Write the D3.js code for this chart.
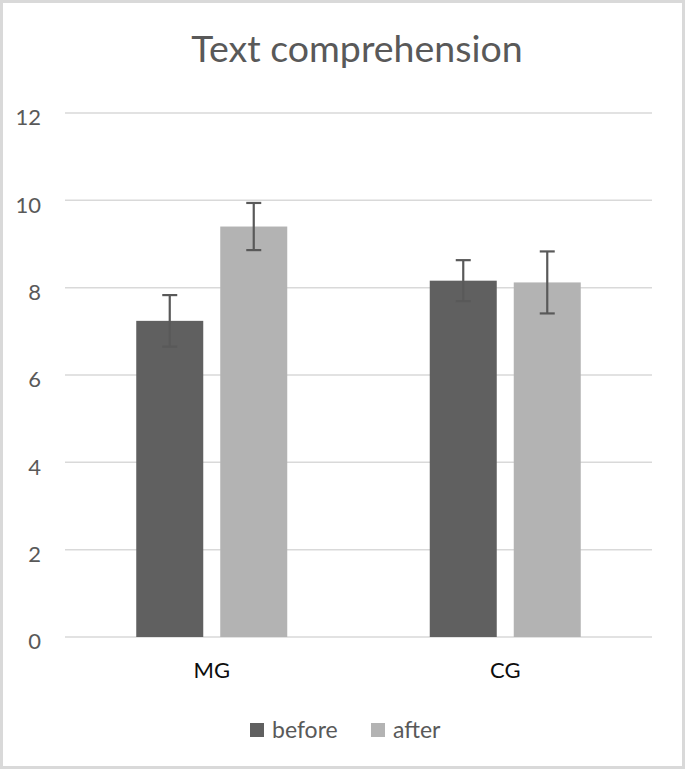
<!DOCTYPE html>
<html>
<head>
<meta charset="utf-8">
<script src="https://cdn.jsdelivr.net/npm/d3@7"></script>
<style>
  body { margin: 0; background: white; }
  svg { display: block; }
</style>
</head>
<body>
<div id="chart"></div>
<script>
const categories = ["MG", "CG"];
const seriesNames = ["before", "after"];
const before = [7.24, 8.16];
const after = [9.40, 8.12];
const beforeErr = [0.59, 0.47];
const afterErr = [0.54, 0.71];
const yTicks = [0, 2, 4, 6, 8, 10, 12];

const width = 685;
const height = 769;
const margin = { top: 113, right: 33, bottom: 132, left: 65 };
const colors = { before: "#606060", after: "#b3b3b3" };
const font = "Lato, 'Open Sans', sans-serif";

const rows = categories.map((c, i) => ({
  cat: c,
  values: [
    { key: "before", v: before[i], e: beforeErr[i] },
    { key: "after", v: after[i], e: afterErr[i] }
  ]
}));

const svg = d3.select("#chart")
  .append("svg")
  .attr("width", width)
  .attr("height", height)
  .style("font-family", font);

// chart frame
svg.append("rect")
  .attr("x", 1.5).attr("y", 1.5)
  .attr("width", width - 3).attr("height", height - 3)
  .attr("fill", "white")
  .attr("stroke", "#d9d9d9")
  .attr("stroke-width", 3);

const x0 = d3.scaleBand()
  .domain(categories)
  .range([margin.left, width - margin.right]);

// two bars of 67px with 17px between, centred in each band
const barW = 67, barGap = 17;
const x1 = d3.scaleOrdinal()
  .domain(seriesNames)
  .range([-(barW + barGap / 2), barGap / 2]);

const y = d3.scaleLinear()
  .domain([0, 12])
  .range([height - margin.bottom, margin.top]);

// gridlines
svg.append("g")
  .selectAll("line")
  .data(yTicks)
  .join("line")
  .attr("x1", margin.left)
  .attr("x2", width - margin.right)
  .attr("y1", d => y(d))
  .attr("y2", d => y(d))
  .attr("stroke", "#d9d9d9")
  .attr("stroke-width", 1.5);

// y axis labels
const yAxis = svg.append("g")
  .attr("transform", `translate(${margin.left - 24},4)`)
  .call(d3.axisLeft(y).tickValues(yTicks).tickSize(0).tickPadding(0));
yAxis.select(".domain").remove();
yAxis.selectAll("text")
  .attr("fill", "#595959")
  .style("font-size", "22px")
  .style("font-family", font)
  .attr("dy", "0.36em");

// bars
const groups = svg.append("g")
  .selectAll("g")
  .data(rows)
  .join("g")
  .attr("transform", d => `translate(${x0(d.cat) + x0.bandwidth() / 2},0)`);

groups.selectAll("rect")
  .data(d => d.values)
  .join("rect")
  .attr("x", d => x1(d.key))
  .attr("width", barW)
  .attr("y", d => y(d.v))
  .attr("height", d => y(0) - y(d.v))
  .attr("fill", d => colors[d.key]);

// error bars
const eb = groups.selectAll("g.err")
  .data(d => d.values)
  .join("g")
  .attr("class", "err")
  .attr("stroke", "#595959")
  .attr("stroke-width", 2.2);

eb.append("line")
  .attr("x1", d => x1(d.key) + barW / 2)
  .attr("x2", d => x1(d.key) + barW / 2)
  .attr("y1", d => y(d.v + d.e))
  .attr("y2", d => y(d.v - d.e));

[1, -1].forEach(s => {
  eb.append("line")
    .attr("x1", d => x1(d.key) + barW / 2 - 7.5)
    .attr("x2", d => x1(d.key) + barW / 2 + 7.5)
    .attr("y1", d => y(d.v + s * d.e))
    .attr("y2", d => y(d.v + s * d.e));
});

// category labels
svg.append("g")
  .selectAll("text")
  .data(categories)
  .join("text")
  .attr("x", d => x0(d) + x0.bandwidth() / 2)
  .attr("y", y(0) + 41)
  .attr("text-anchor", "middle")
  .attr("fill", "#0d0d0d")
  .style("font-size", "22px")
  .text(d => d);

// title
svg.append("text")
  .attr("x", 357)
  .attr("y", 62)
  .attr("text-anchor", "middle")
  .attr("fill", "#595959")
  .style("font-size", "37.5px")
  .text("Text comprehension");

// legend
const legendX = [250, 371];
const legend = svg.append("g")
  .selectAll("g")
  .data(seriesNames)
  .join("g")
  .attr("transform", (d, i) => `translate(${legendX[i]},723)`);

legend.append("rect")
  .attr("width", 14)
  .attr("height", 14)
  .attr("fill", d => colors[d]);

legend.append("text")
  .attr("x", 22)
  .attr("y", 15)
  .attr("fill", "#595959")
  .style("font-size", "23px")
  .text(d => d);
</script>
</body>
</html>
